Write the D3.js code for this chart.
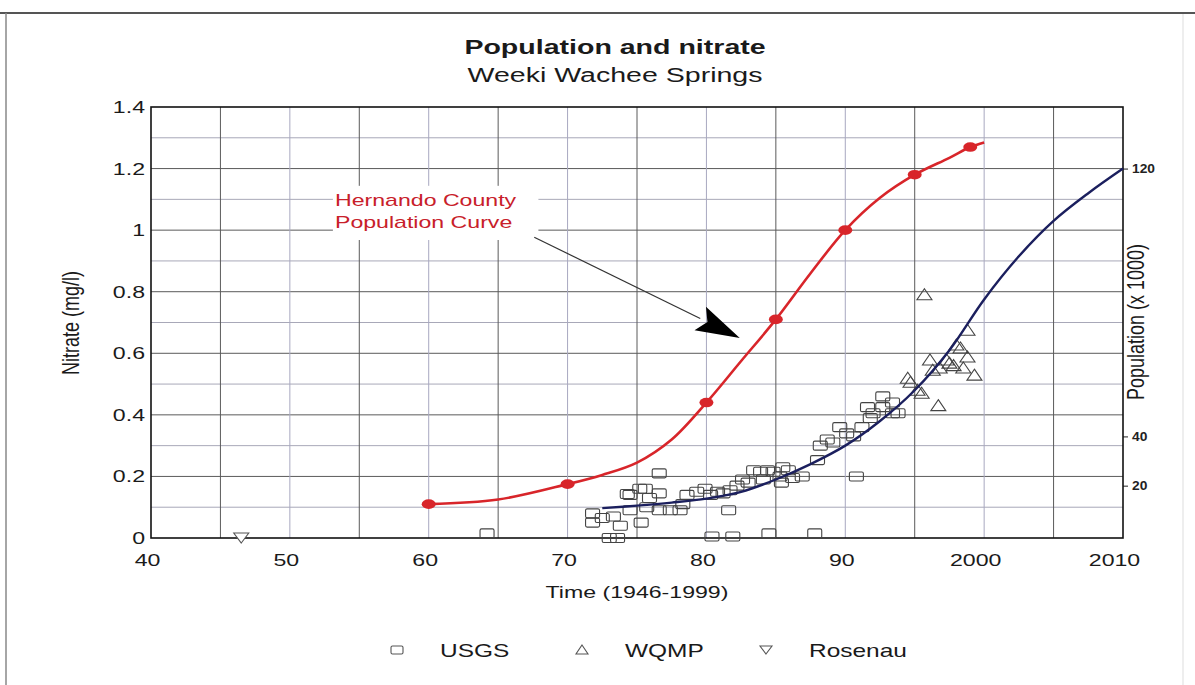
<!DOCTYPE html>
<html><head><meta charset="utf-8">
<script src="https://cdn.jsdelivr.net/npm/d3@7/dist/d3.min.js"></script>
<style>body{margin:0;background:#fff;} svg{display:block;font-family:"Liberation Sans",Arial,sans-serif;}</style>
</head><body>
<svg id="c" width="1195" height="685"></svg>
<script>
// ---------- data ----------
const xTickValues = [40, 50, 60, 70, 80, 90, 100, 110];
const xTickLabels = ["40", "50", "60", "70", "80", "90", "2000", "2010"];
const yTickValues = [0, 0.2, 0.4, 0.6, 0.8, 1, 1.2, 1.4];
const yTickLabels = ["0", "0.2", "0.4", "0.6", "0.8", "1", "1.2", "1.4"];
const popTickValues = [20, 40, 120];
const popTickNitrateEquiv = [0.17, 0.33, 1.2];

// Hernando County population curve (year offset from 1900, plotted value)
const popCurveYears = [60, 65, 70, 72.5, 75, 77.5, 80, 82.5, 85, 87.5, 90, 92.5, 95, 97.5, 99, 100];
const popCurveValues = [0.11, 0.125, 0.175, 0.205, 0.245, 0.32, 0.44, 0.575, 0.71, 0.86, 1.0, 1.105, 1.18, 1.235, 1.27, 1.285];
const popPointYears = [60, 70, 80, 85, 90, 95, 99];
const popPointValues = [0.11, 0.175, 0.44, 0.71, 1.0, 1.18, 1.27];

// blue trend curve
const trendYears = [72.5, 75, 77.5, 80, 82.5, 85, 87.5, 90, 92.5, 95, 97.5, 100, 102.5, 105, 107.5, 110];
const trendValues = [0.097, 0.105, 0.115, 0.128, 0.15, 0.19, 0.24, 0.30, 0.38, 0.48, 0.61, 0.775, 0.915, 1.03, 1.12, 1.2];

// USGS samples
const usgsYears = [64.2, 73.0, 73.6, 80.4, 81.9, 84.5, 87.8, 76.6, 90.8, 81.6,
  71.8, 71.8, 72.5, 73.3, 73.8, 74.5, 75.2, 74.5, 75.3, 75.7, 75.9, 76.6, 76.6, 77.4, 78.1, 78.3, 78.6, 79.3, 79.9, 80.3,
  80.8, 81.2, 81.7, 82.2, 74.3, 75.6,
  82.6, 83.0, 83.4, 83.9, 84.1, 84.4, 84.8, 85.3, 85.4, 85.5, 85.9, 86.2, 86.9,
  88.0, 88.2, 88.7, 89.1, 89.6, 90.1, 90.6, 91.2, 91.6, 92.0, 92.7, 93.4, 93.4, 91.8, 93.8, 92.7];
const usgsValues = [0.015, 0.0, 0.0, 0.005, 0.005, 0.015, 0.015, 0.21, 0.2, 0.09,
  0.08, 0.05, 0.065, 0.07, 0.04, 0.14, 0.16, 0.09, 0.05, 0.10, 0.13, 0.145, 0.09, 0.09, 0.09, 0.11, 0.14, 0.15, 0.16, 0.14,
  0.15, 0.145, 0.155, 0.17, 0.143, 0.16,
  0.19, 0.18, 0.22, 0.215, 0.19, 0.22, 0.215, 0.2, 0.18, 0.23, 0.22, 0.195, 0.2,
  0.253, 0.30, 0.32, 0.31, 0.36, 0.34, 0.33, 0.36, 0.425, 0.405, 0.46, 0.44, 0.405, 0.39, 0.405, 0.425];

// WQMP samples
const wqmpYears = [95.7, 98.8, 98.0, 98.3, 98.8, 96.1, 97.3, 97.5, 96.8, 98.5, 99.3, 94.5, 94.7, 95.2, 95.5, 96.7, 96.3, 97.8];
const wqmpValues = [0.79, 0.675, 0.627, 0.617, 0.588, 0.578, 0.578, 0.568, 0.552, 0.552, 0.529, 0.519, 0.506, 0.48, 0.47, 0.43, 0.545, 0.56];

// Rosenau samples
const rosenauYears = [46.5];
const rosenauValues = [0.0];

const legendLabels = ["USGS", "WQMP", "Rosenau"];

// ---------- drawing ----------
const SX = 1.36; // horizontal stretch of the scanned lettering
const svg = d3.select("#c");
const L = 151, R = 1123, T = 107, B = 538;
const x = d3.scaleLinear().domain([40, 110]).range([L, R]);
const y = d3.scaleLinear().domain([0, 1.4]).range([B, T]);
const yPop = d3.scaleLinear().domain([0].concat(popTickValues)).range([y(0)].concat(popTickNitrateEquiv.map(v => y(v))));

function stext(parent, px, py, str, size, opts = {}) {
  return parent.append("text")
    .attr("transform", `translate(${px},${py}) scale(${opts.sx || SX},1)`)
    .attr("text-anchor", opts.anchor || "middle")
    .attr("font-size", size)
    .attr("font-weight", opts.weight || "normal")
    .attr("fill", opts.fill || "#1a1a1a")
    .text(str);
}

// page frame
svg.append("line").attr("x1", 0).attr("x2", 1195).attr("y1", 13).attr("y2", 13).attr("stroke", "#555").attr("stroke-width", 2);
svg.append("line").attr("x1", 6).attr("x2", 6).attr("y1", 13).attr("y2", 685).attr("stroke", "#888").attr("stroke-width", 1.5);
svg.append("line").attr("x1", 1183).attr("x2", 1183).attr("y1", 14).attr("y2", 685).attr("stroke", "#ddd").attr("stroke-width", 1);

// titles
stext(svg, 615, 54, "Population and nitrate", 21, {weight: "bold"});
stext(svg, 615, 82, "Weeki Wachee Springs", 21);

// grid
const grid = svg.append("g");
const hLines = d3.range(1, 14).map(i => i / 10);
grid.selectAll("line.h").data(hLines).join("line")
  .attr("x1", L).attr("x2", R)
  .attr("y1", d => y(d)).attr("y2", d => y(d))
  .attr("stroke", (d, i) => (i % 2 === 1 ? "#5a5a5a" : "#a8a8b8"))
  .attr("stroke-width", 1);
const vLines = d3.range(45, 110, 5);
grid.selectAll("line.v").data(vLines).join("line")
  .attr("y1", T).attr("y2", B)
  .attr("x1", d => x(d)).attr("x2", d => x(d))
  .attr("stroke", d => (d % 10 === 5 ? "#5a5a5a" : "#a8a8c0"))
  .attr("stroke-width", 1);

// axes (labels via d3 axes)
const xAxis = d3.axisBottom(x).tickValues(xTickValues).tickFormat((d, i) => xTickLabels[i]).tickSize(0).tickPadding(0);
const gx = svg.append("g").attr("transform", `translate(0,${B})`).call(xAxis);
gx.select(".domain").remove();
gx.selectAll("text").attr("font-size", 17).attr("fill", "#1a1a1a").attr("font-family", "Liberation Sans, Arial, sans-serif")
  .attr("dy", 0).attr("y", 0)
  .attr("transform", d => `translate(${d >= 100 ? -9 : -4},28) scale(${SX},1)`);

const yAxis = d3.axisLeft(y).tickValues(yTickValues).tickFormat((d, i) => yTickLabels[i]).tickSize(0).tickPadding(0);
const gy = svg.append("g").attr("transform", `translate(${L},0)`).call(yAxis);
gy.select(".domain").remove();
gy.selectAll("text").attr("font-size", 17).attr("fill", "#1a1a1a").attr("font-family", "Liberation Sans, Arial, sans-serif")
  .attr("transform", `translate(-6,0) scale(${SX},1)`);

const pAxis = d3.axisRight(yPop).tickValues(popTickValues).tickSize(5).tickPadding(4);
const gp = svg.append("g").attr("transform", `translate(${R},0)`).call(pAxis);
gp.select(".domain").remove();
gp.selectAll("line").attr("stroke", "#222");
gp.selectAll("text").attr("font-size", 12).attr("font-weight", "bold").attr("fill", "#222").attr("font-family", "Liberation Sans, Arial, sans-serif")
  .attr("transform", `translate(9,0) scale(1.15,1) translate(-9,0)`);

// axis titles
stext(svg, 637, 598, "Time (1946-1999)", 17);
svg.append("text").attr("transform", `translate(79,323) rotate(-90) scale(1,1.3)`)
  .attr("text-anchor", "middle").attr("font-size", 18).attr("fill", "#1a1a1a").text("Nitrate (mg/l)");
svg.append("text").attr("transform", `translate(1144,322) rotate(-90) scale(1,1.3)`)
  .attr("text-anchor", "middle").attr("font-size", 18).attr("fill", "#1a1a1a").text("Population (x 1000)");

// plot border
svg.append("rect").attr("x", L).attr("y", T).attr("width", R - L).attr("height", B - T)
  .attr("fill", "none").attr("stroke", "#111").attr("stroke-width", 1.6);

// annotation box (hides grid behind label)
svg.append("rect").attr("x", x(53.1)).attr("y", y(1.144)).attr("width", x(67.9) - x(53.1)).attr("height", y(0.968) - y(1.144)).attr("fill", "#fff");
stext(svg, x(53.25), y(1.078), "Hernando County", 17, {anchor: "start", fill: "#c8202a"});
stext(svg, x(53.25), y(1.006), "Population Curve", 17, {anchor: "start", fill: "#c8202a"});

// arrow
const ax0 = x(67.6), ay0 = y(0.977), ax1 = x(82.4), ay1 = y(0.65);
const ang = Math.atan2(ay1 - ay0, ax1 - ax0);
const hl = 44, hw = 13;
const bx = ax1 - hl * Math.cos(ang), by = ay1 - hl * Math.sin(ang);
svg.append("line").attr("x1", ax0).attr("y1", ay0).attr("x2", bx).attr("y2", by).attr("stroke", "#333").attr("stroke-width", 1.2);
svg.append("path").attr("d", `M${ax1},${ay1} L${bx + hw * Math.sin(ang)},${by - hw * Math.cos(ang)} L${bx + 8 * Math.cos(ang)},${by + 8 * Math.sin(ang)} L${bx - hw * Math.sin(ang)},${by + hw * Math.cos(ang)} Z`)
  .attr("fill", "#000");

// scatter
const sq = svg.append("g");
sq.selectAll("rect").data(d3.zip(usgsYears, usgsValues)).join("rect")
  .attr("x", d => x(d[0]) - 7).attr("y", d => y(d[1]) - 4.5).attr("width", 14).attr("height", 9).attr("rx", 1.5)
  .attr("fill", "none").attr("stroke", "#444").attr("stroke-width", 1.1);

const triUp = d => { const cx = x(d[0]), cy = y(d[1]); return `M${cx},${cy - 6} L${cx + 7.5},${cy + 5} L${cx - 7.5},${cy + 5} Z`; };
const triDown = d => { const cx = x(d[0]), cy = y(d[1]); return `M${cx},${cy + 5} L${cx + 7.5},${cy - 5} L${cx - 7.5},${cy - 5} Z`; };
svg.append("g").selectAll("path").data(d3.zip(wqmpYears, wqmpValues)).join("path")
  .attr("d", triUp).attr("fill", "none").attr("stroke", "#444").attr("stroke-width", 1.1);
svg.append("g").selectAll("path").data(d3.zip(rosenauYears, rosenauValues)).join("path")
  .attr("d", triDown).attr("fill", "#fff").attr("stroke", "#555").attr("stroke-width", 1.1);

// lines
const line = d3.line().x(d => x(d[0])).y(d => y(d[1])).curve(d3.curveCatmullRom.alpha(0.5));
svg.append("path").datum(d3.zip(trendYears, trendValues)).attr("d", line)
  .attr("fill", "none").attr("stroke", "#1b1f5e").attr("stroke-width", 2.4);
svg.append("path").datum(d3.zip(popCurveYears, popCurveValues)).attr("d", line)
  .attr("fill", "none").attr("stroke", "#d8252a").attr("stroke-width", 2.6);
svg.append("g").selectAll("ellipse").data(d3.zip(popPointYears, popPointValues)).join("ellipse")
  .attr("cx", d => x(d[0])).attr("cy", d => y(d[1])).attr("rx", 7).attr("ry", 4.8).attr("fill", "#d8252a");

// legend
const legendX = [397, 582, 766];
const lg = svg.append("g");
legendLabels.forEach((lab, i) => {
  const cx = legendX[i], cy = 650;
  if (i === 0) lg.append("rect").attr("x", cx - 6).attr("y", cy - 4).attr("width", 12).attr("height", 8).attr("rx", 1.5).attr("fill", "none").attr("stroke", "#555").attr("stroke-width", 1.1);
  if (i === 1) lg.append("path").attr("d", `M${cx},${cy - 5} L${cx + 6},${cy + 4} L${cx - 6},${cy + 4} Z`).attr("fill", "none").attr("stroke", "#555").attr("stroke-width", 1.1);
  if (i === 2) lg.append("path").attr("d", `M${cx},${cy + 4} L${cx + 6},${cy - 4} L${cx - 6},${cy - 4} Z`).attr("fill", "none").attr("stroke", "#555").attr("stroke-width", 1.1);
  stext(lg, cx + 43, cy + 7, lab, 18, {anchor: "start"});
});
</script>
</body></html>
